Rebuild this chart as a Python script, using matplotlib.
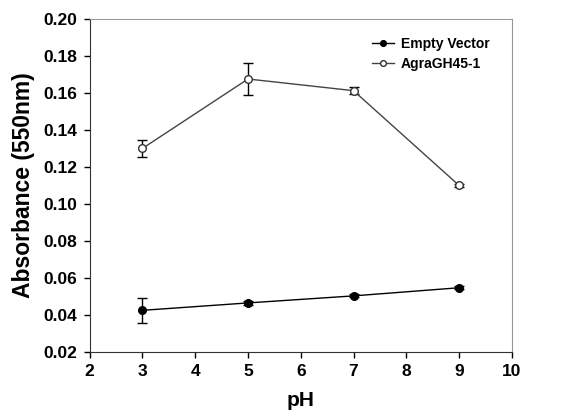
import matplotlib
matplotlib.use("Agg")
import matplotlib.pyplot as plt

ph = [3, 5, 7, 9]
empty_vector = [0.0425, 0.0465, 0.0503, 0.0547]
empty_vector_err = [0.0068, 0.0010, 0.0008, 0.0007]
agra = [0.1300, 0.1675, 0.1612, 0.1100]
agra_err = [0.0048, 0.0085, 0.0020, 0.0008]
x_ticks = [2, 3, 4, 5, 6, 7, 8, 9, 10]
y_ticks = [0.02, 0.04, 0.06, 0.08, 0.10, 0.12, 0.14, 0.16, 0.18, 0.20]

plt.rcParams['font.family'] = ['Liberation Sans', 'DejaVu Sans']
plt.rcParams['font.weight'] = 'bold'

fig = plt.figure(figsize=(5.68, 4.19), dpi=100)
ax = fig.add_axes([0.158, 0.160, 0.743, 0.795])

ax.errorbar(ph, empty_vector, yerr=empty_vector_err, fmt='none', ecolor='black',
            elinewidth=1.0, capsize=3.5, capthick=1.0)
ax.errorbar(ph, agra, yerr=agra_err, fmt='none', ecolor='black',
            elinewidth=1.0, capsize=3.5, capthick=1.0)
ax.plot(ph, empty_vector, color='black', marker='o', markersize=5.5,
        markerfacecolor='black', markeredgecolor='black', linewidth=1.0,
        label='Empty Vector')
ax.plot(ph, agra, color='#444444', marker='o', markersize=5.5,
        markerfacecolor='white', markeredgecolor='#333333', linewidth=1.0,
        label='AgraGH45-1')

ax.set_xlim(2, 10)
ax.set_ylim(0.02, 0.20)
ax.set_xticks(x_ticks)
ax.set_xticklabels([str(v) for v in x_ticks])
ax.set_yticks(y_ticks)
ax.set_yticklabels([f"{v:.2f}" for v in y_ticks])
ax.tick_params(direction='out', length=4, width=1, labelsize=12.5, pad=5)
for lab in ax.get_xticklabels() + ax.get_yticklabels():
    lab.set_fontweight('bold')

for s in ['top', 'right']:
    ax.spines[s].set_color('#999999')
for s in ['left', 'bottom']:
    ax.spines[s].set_color('#333333')

ax.set_xlabel('pH', fontsize=15, fontweight='bold', labelpad=8)
ax.set_ylabel('Absorbance (550nm)', fontsize=16.5, fontweight='bold', labelpad=6)

leg = ax.legend(loc='upper right', frameon=False, fontsize=10, handlelength=1.6,
                borderaxespad=0.9, handletextpad=0.5, labelspacing=0.45,
                markerscale=0.75, bbox_to_anchor=(0.99, 1.0))
for t in leg.get_texts():
    t.set_fontweight('bold')

fig.savefig('out.png', dpi=100)
